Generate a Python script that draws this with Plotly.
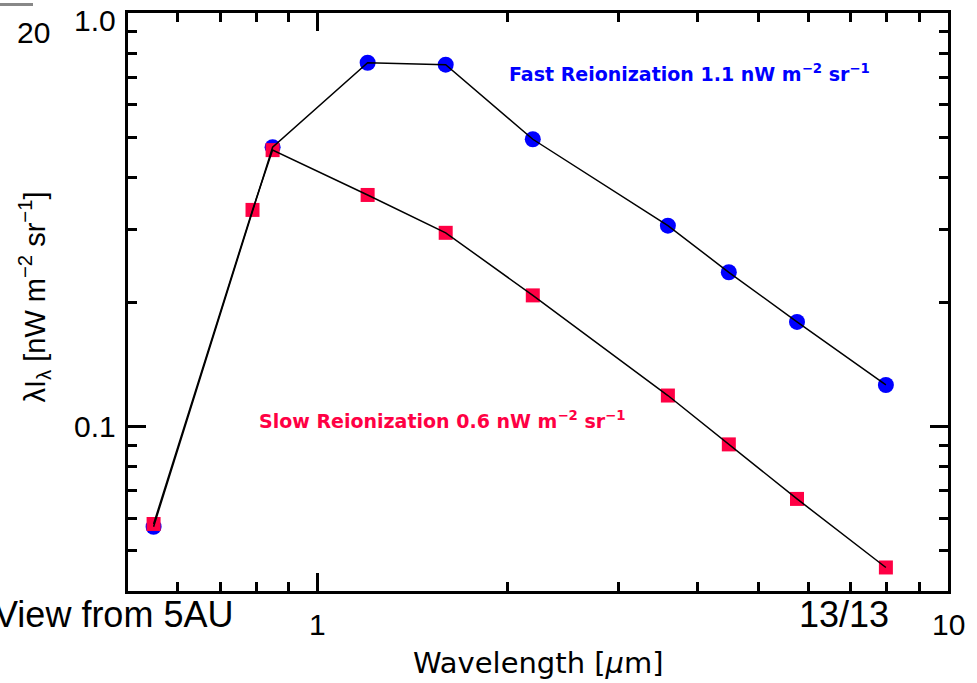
import plotly.graph_objects as go
import numpy as np

# Data
wl_fast = [0.549, 0.848, 1.20, 1.596, 2.194, 3.594, 4.49, 5.76, 7.97]
fast = [0.0572, 0.4736, 0.758, 0.750, 0.495, 0.306, 0.236, 0.179, 0.126]
wl_slow = [0.549, 0.788, 0.848, 1.20, 1.596, 2.194, 3.594, 4.49, 5.76, 7.97]
slow = [0.0581, 0.334, 0.466, 0.363, 0.294, 0.2075, 0.1188, 0.0905, 0.0668, 0.0456]

x_major = [1, 10]
x_major_labels = ["1", "10"]
x_minor = [0.5, 0.6, 0.7, 0.8, 0.9, 2, 3, 4, 5, 6, 7, 8, 9]
y_major = [0.1, 1.0]
y_major_labels = ["0.1", "1.0"]
y_minor = [0.04, 0.05, 0.06, 0.07, 0.08, 0.09, 0.2, 0.3, 0.4, 0.5, 0.6, 0.7, 0.8, 0.9]

BLUE = "#0000ff"
RED = "#ff0044"

fig = go.Figure()
fig.add_trace(go.Scatter(x=wl_fast, y=fast, mode="markers",
                         marker=dict(symbol="circle", size=16, color=BLUE), showlegend=False))
fig.add_trace(go.Scatter(x=wl_slow, y=slow, mode="markers",
                         marker=dict(symbol="square", size=14, color=RED), showlegend=False))
fig.add_trace(go.Scatter(x=wl_fast, y=fast, mode="lines",
                         line=dict(color="black", width=1.5), showlegend=False))
fig.add_trace(go.Scatter(x=wl_slow, y=slow, mode="lines",
                         line=dict(color="black", width=1.5), showlegend=False))

axis_common = dict(showgrid=False, zeroline=False, showline=True, linecolor="black",
                   linewidth=3, mirror="ticks", ticks="inside", ticklen=18, tickwidth=2.5,
                   tickcolor="black", showticklabels=False)

fig.update_xaxes(type="log", range=[np.log10(0.5), np.log10(10)], tickmode="array",
                 tickvals=x_major,
                 minor=dict(tickmode="array", tickvals=x_minor, ticks="inside", ticklen=9,
                            tickwidth=2.5, tickcolor="black", showgrid=False),
                 **axis_common)
fig.update_yaxes(type="log", range=[np.log10(0.04), np.log10(1.0)], tickmode="array",
                 tickvals=y_major,
                 minor=dict(tickmode="array", tickvals=y_minor, ticks="inside", ticklen=9,
                            tickwidth=2.5, tickcolor="black", showgrid=False),
                 **axis_common)

fig.update_layout(
    width=977, height=683,
    margin=dict(l=128, r=29, t=10, b=92),
    plot_bgcolor="white", paper_bgcolor="white",
    showlegend=False,
)

pw = 977 - 128 - 29
ph = 683 - 10 - 92
def px(xp):
    return (xp - 128) / pw
def py(yp):
    return (683 - 92 - yp) / ph

ann = []
tick_font = dict(family="Liberation Sans, Arial", size=30, color="black")
for v, t in zip(x_major, x_major_labels):
    ann.append(dict(x=np.log10(v), y=py(625), xref="x", yref="paper", text=t, showarrow=False,
                    font=tick_font, xanchor="center", yanchor="middle"))
for v, t in zip(y_major, y_major_labels):
    ann.append(dict(x=-0.012, y=np.log10(v), xref="paper", yref="y", text=t, showarrow=False,
                    font=tick_font, xanchor="right", yanchor="middle", yshift=-7 if v == 1.0 else 0))

ann.append(dict(x=0.5, y=py(663), xref="paper", yref="paper",
                text="Wavelength [<i>μ</i>m]", showarrow=False,
                font=dict(family="DejaVu Sans", size=29, color="black"),
                xanchor="center", yanchor="middle"))
ann.append(dict(x=px(34), y=py(296), xref="paper", yref="paper",
                text="λI<sub>λ</sub> [nW m<sup>−2</sup> sr<sup>−1</sup>]", textangle=-90,
                showarrow=False, font=dict(family="Liberation Sans, Arial", size=29, color="black"),
                xanchor="center", yanchor="middle"))
ann.append(dict(x=px(507), y=py(70), xref="paper", yref="paper",
                text="<b>Fast Reionization 1.1 nW m<sup>−2</sup> sr<sup>−1</sup></b>",
                showarrow=False, font=dict(family="DejaVu Sans", size=19, color=BLUE),
                xanchor="left", yanchor="middle"))
ann.append(dict(x=px(257), y=py(419), xref="paper", yref="paper",
                text="<b>Slow Reionization 0.6 nW m<sup>−2</sup> sr<sup>−1</sup></b>",
                showarrow=False, font=dict(family="DejaVu Sans", size=19, color=RED),
                xanchor="left", yanchor="middle"))
big = dict(family="Liberation Sans, Arial", size=36, color="black")
ann.append(dict(x=px(-8), y=py(615), xref="paper", yref="paper", text="View from 5AU",
                showarrow=False, font=big, xanchor="left", yanchor="middle"))
ann.append(dict(x=px(844), y=py(615), xref="paper", yref="paper", text="13/13",
                showarrow=False, font=big, xanchor="center", yanchor="middle"))
ann.append(dict(x=px(33), y=py(30), xref="paper", yref="paper", text="20",
                showarrow=False, font=tick_font, xanchor="center", yanchor="middle"))

fig.update_layout(annotations=ann)
fig.add_shape(type="rect", xref="paper", yref="paper", x0=px(0), x1=px(33), y0=py(3), y1=py(0),
              fillcolor="#888888", line=dict(width=0))

fig.write_html("out.html")
